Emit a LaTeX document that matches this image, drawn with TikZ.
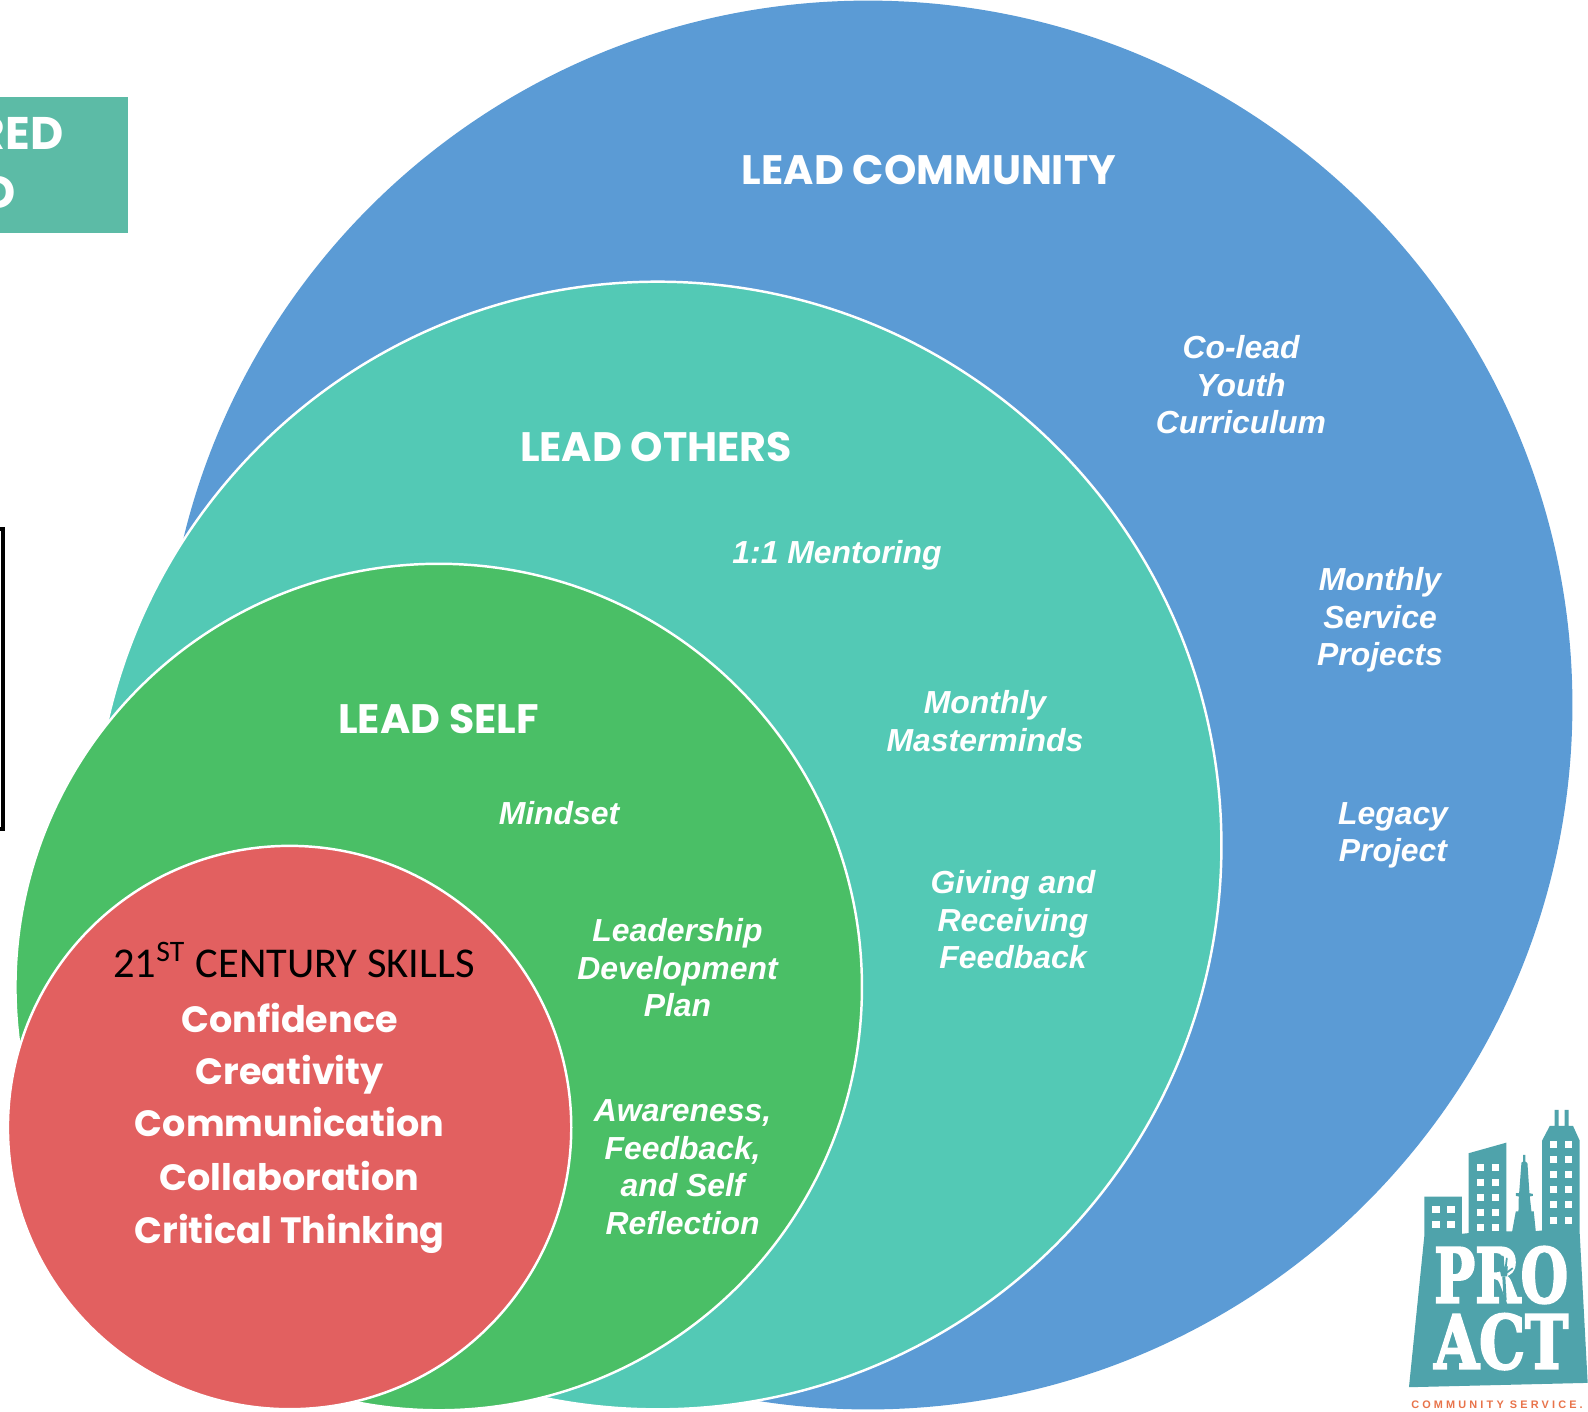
\documentclass[tikz,border=0pt]{standalone}
\usepackage{fontspec}
\setmainfont{Liberation Sans}
\newfontfamily\headfont{Poppins}
\newfontfamily\skillfont{Carlito}
\newfontfamily\logofont[BoldFont={DejaVu Serif Bold},BoldFeatures={FakeBold=3}]{DejaVu Serif}
\newfontfamily\tagfont[LetterSpace=29]{Liberation Sans}
\definecolor{blueback}{HTML}{5B9BD5}
\definecolor{tealback}{HTML}{53C9B5}
\definecolor{greenback}{HTML}{4ABF66}
\definecolor{redback}{HTML}{E26060}
\definecolor{boxgreen}{HTML}{5CBBA6}
\definecolor{logoteal}{HTML}{4FA3AB}
\definecolor{logoorange}{HTML}{E8734A}
\begin{document}
\begin{tikzpicture}[x=0.01cm,y=-0.01cm]
\tikzstyle{ring}=[circle,draw=white,line width=0.7pt,inner sep=0cm,outer sep=0cm]
\tikzstyle{heading}=[text=white,font=\headfont\bfseries\fontsize{11.7}{13}\selectfont]
\tikzstyle{boxtext}=[text=white,anchor=base east,inner sep=0cm,font=\headfont\bfseries\fontsize{13}{15}\selectfont]
\tikzstyle{activity}=[text=white,align=center,font=\bfseries\itshape\fontsize{9.07}{10.65}\selectfont]
\tikzstyle{skill}=[text=white,anchor=base,font=\headfont\bfseries\fontsize{10.4}{12}\selectfont]
\tikzstyle{win}=[fill=white,draw=none,minimum width=0.073cm,minimum height=0.067cm,inner sep=0cm]
\useasboundingbox (0,0) rectangle (1588,1411);
% cut off pieces at the left edge
\node [fill=boxgreen,anchor=north east,minimum width=1.5cm,minimum height=1.36cm,inner sep=0cm,outer sep=0cm] (box) at (128,97) {};
\node [boxtext] (boxa) at (64,149) {RED};
\node [boxtext] (boxb) at (16,208) {D};
\draw [line width=0.9pt] (-10,529) rectangle (3,829);
% the rings
\node [circle,fill=blueback,inner sep=0cm,minimum size=14.08cm] (community) at (868,705) {};
\node [ring,fill=tealback,minimum size=11.27cm] (others) at (657.6,845.5) {};
\node [ring,fill=greenback,minimum size=8.46cm] (self) at (438.7,987) {};
\node [ring,fill=redback,minimum size=5.63cm] (skills) at (289.6,1127.5) {};
\node [heading] (lc) at (929,170) {LEAD COMMUNITY};
\node [heading] (lo) at (656,447) {LEAD OTHERS};
\node [heading] (ls) at (438.5,719) {LEAD SELF};
\node [activity] (a1) at (1241,385) {Co-lead\\Youth\\Curriculum};
\node [activity] (a2) at (1380,620) {Monthly\\Service\\Projects};
\node [activity] (a3) at (1393,835.5) {Legacy\\Project};
\node [activity] (b1) at (837,555) {1:1 Mentoring};
\node [activity] (b2) at (985,721) {Monthly\\Masterminds};
\node [activity] (b3) at (1013,920) {Giving and\\Receiving\\Feedback};
\node [activity] (c1) at (559,813) {Mindset};
\node [activity] (c2) at (677.5,968) {Leadership\\Development\\Plan};
\node [activity] (c3) at (682.6,1167) {Awareness,\\Feedback,\\and Self\\Reflection};
\node [anchor=base,font=\skillfont\fontsize{12.07}{14}\selectfont] (title) at (294,977) {21\textsuperscript{ST} CENTURY SKILLS};
\node [skill] (s1) at (289.6,1032.7) {Confidence};
\node [skill] (s2) at (289.6,1084) {Creativity};
\node [skill] (s3) at (289.6,1136.7) {Communication};
\node [skill] (s4) at (289.6,1190) {Collaboration};
\node [skill] (s5) at (289.6,1243) {Critical Thinking};
% logo, coordinates as in a 3x crop
\begin{scope}[shift={(1380,1090)},x=0.00333cm,y=-0.00333cm]
\fill [logoteal] (133,320) -- (246,320) -- (246,432) -- (266,430) -- (266,190) -- (380,158) -- (380,425) -- (397,425) -- (408,365) -- (416,365) -- (417,320) -- (408,318) -- (408,310) -- (418,310) -- (425,218) -- (430,215) -- (430,195) -- (437,195) -- (437,215) -- (443,220) -- (449,310) -- (459,312) -- (459,318) -- (450,320) -- (455,365) -- (462,365) -- (468,424) -- (487,422) -- (487,152) -- (510,108) -- (525,108) -- (525,60) -- (537,60) -- (537,108) -- (555,108) -- (555,60) -- (567,60) -- (567,108) -- (580,108) -- (600,152) -- (600,430) -- (624,880) -- (87,893) -- (133,440) -- cycle;
\foreach \xx in {522,567} \foreach \yy in {164,209,254,299,345,392} \node [win] at (\xx,\yy) {};
\foreach \xx in {301,346} \foreach \yy in {233,278,323,368,414} \node [win] at (\xx,\yy) {};
\foreach \xx in {168,213} \foreach \yy in {359,405} \node [win] at (\xx,\yy) {};
\node [text=white,inner sep=0cm] (pro) at (364,556) {\resizebox{1.34cm}{0.56cm}{\logofont\bfseries PRO}};
\node [text=white,inner sep=0cm] (act) at (364,756) {\resizebox{1.34cm}{0.55cm}{\logofont\bfseries ACT}};
\draw [logoteal,line width=0.85pt] (376,632) -- (372,560);
\fill [logoteal] (358,530) -- (384,530) -- (382,560) -- (364,560) -- cycle;
\draw [logoteal,line width=0.5pt,line cap=round] (358,540) -- (348,512) (364,530) -- (358,504) (371,530) -- (369,500) (378,530) -- (381,506) (382,548) -- (398,536);
\end{scope}
\node [text=logoorange,font=\tagfont\bfseries\fontsize{3.1}{4}\selectfont,inner sep=0cm] (tag) at (1497,1405) {COMMUNITY SERVICE.};
\end{tikzpicture}
\end{document}
